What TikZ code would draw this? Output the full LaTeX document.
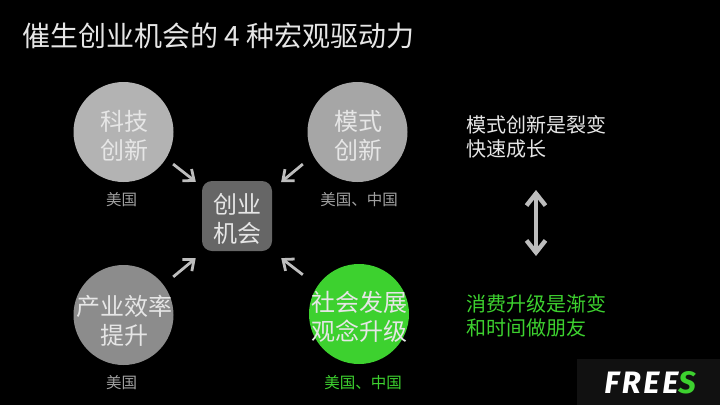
\documentclass[tikz,border=0pt]{standalone}
\usepackage{fontspec}
\setmainfont{Noto Sans CJK SC}
\newfontfamily\logofont{Fira Sans}
\usetikzlibrary{arrows.meta}
\definecolor{grnc}{HTML}{3DD12F}
\definecolor{arrowc}{HTML}{BDBDBD}
\definecolor{txtc}{HTML}{E6E6E6}
\definecolor{hubc}{HTML}{666666}
\definecolor{labc}{HTML}{A0A0A0}
\newcommand{\cjktxt}[2][-13.4pt]{\makebox[0pt]{\hspace{1.6pt}\raisebox{#1}[0pt][0pt]{\begin{tabular}{@{}c@{}}#2\end{tabular}}}}
\tikzset{
  x=1pt,y=-1pt,
  driver/.style={circle,draw=none,minimum size=100pt,inner sep=0pt,text=txtc,font=\fontsize{24}{28.5}\selectfont},
  hub/.style={rectangle,rounded corners=10pt,fill=hubc,minimum size=70pt,inner sep=0pt,text=txtc,font=\fontsize{24}{28.5}\selectfont},
  lab/.style={font=\fontsize{15.5}{18}\selectfont,inner sep=0pt,text=labc},
  sidetxt/.style={font=\fontsize{20}{24}\selectfont,align=left,anchor=west,inner sep=0pt},
  conn/.style={draw=arrowc,line width=2.8pt,-{Straight Barb[length=9pt,width=15pt,line width=2.8pt]}},
  dbl/.style={draw=arrowc,line width=4pt,{Straight Barb[length=12pt,width=19pt,line width=4.4pt]}-{Straight Barb[length=12pt,width=19pt,line width=4.4pt]}},
}
\begin{document}
\begin{tikzpicture}
\useasboundingbox (0,0) rectangle (720,405);
\fill[black] (0,0) rectangle (720,405);
\node[anchor=west,inner sep=0pt,text=txtc,font=\fontsize{28}{32}\selectfont] (title) at (22,36) {催生创业机会的 4 种宏观驱动力};
\node[driver,fill={rgb,255:red,179;green,179;blue,179}] (tech) at (123.5,132) {\cjktxt{科技\\创新}};
\node[driver,fill={rgb,255:red,166;green,166;blue,166}] (mode) at (357.5,132) {\cjktxt{模式\\创新}};
\node[driver,fill={rgb,255:red,140;green,140;blue,140}] (prod) at (123.5,315) {\cjktxt[-15.2pt]{产业效率\\提升}};
\node[driver,fill=grnc] (social) at (359,314) {\cjktxt[-12pt]{社会发展\\观念升级}};
\node[hub] (hub) at (237,216) {\cjktxt[-12.4pt]{创业\\机会}};
\node[lab] (l1) at (121.5,200) {美国};
\node[lab] (l2) at (359,200) {美国、中国};
\node[lab] (l3) at (121.5,383) {美国};
\node[lab,text=grnc] (l4) at (363,383) {美国、中国};
\draw[conn,shorten <=8.9pt,shorten >=7.6pt] (tech.-32) -- (hub.140);
\draw[conn,shorten <=13.4pt,shorten >=11.6pt] (mode.208) -- (hub.37);
\draw[conn,shorten <=12.5pt,shorten >=11pt] (prod.37) -- (hub.227);
\draw[conn,shorten <=18.4pt,shorten >=11.4pt] (social.146) -- (hub.-45);
\node[sidetxt,text=txtc] (sa) at (466,137) {模式创新是裂变\\快速成长};
\node[sidetxt,text=grnc] (sb) at (466,316) {消费升级是渐变\\和时间做朋友};
\coordinate (dt) at (536,190);
\coordinate (db) at (536,256);
\draw[dbl] (dt) -- (db);
\fill[fill={rgb,255:red,17;green,17;blue,17}] (577,359) rectangle (720,405);
\node[inner sep=0pt,text=white,font=\logofont\fontsize{31}{34}\bfseries\itshape\selectfont] (logo) at (650,382.5) {\addfontfeature{LetterSpace=9}FREE\textcolor{grnc}{S}};
\end{tikzpicture}
\end{document}
